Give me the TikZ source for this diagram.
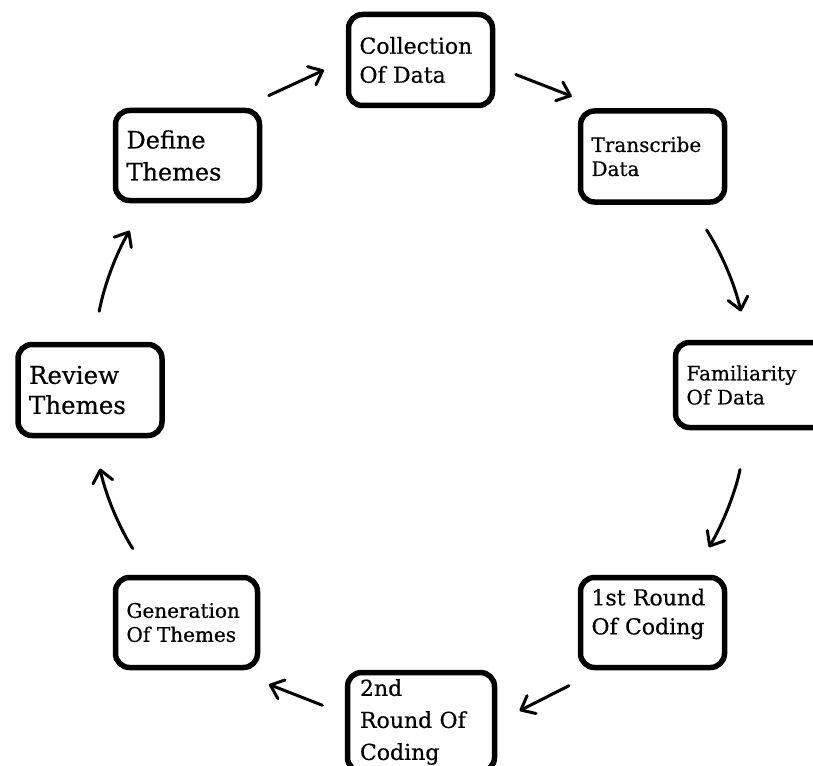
\documentclass[tikz,border=0pt]{standalone}
\usepackage{fontspec}
\setmainfont{DejaVu Serif}[FakeBold=0.5]
\usepackage{tikz}
\usetikzlibrary{arrows.meta}

\begin{document}
\begin{tikzpicture}[x=1pt,y=1pt,
  stage/.style={draw,line width=5.5pt,rounded corners=14pt,align=left,
    minimum width=144pt,minimum height=91pt,text width=122pt,
    inner xsep=11pt,inner ysep=0pt},
  small/.style={font=\fontsize{20}{24}\selectfont},
  medium/.style={font=\fontsize{22}{29}\selectfont},
  large/.style={font=\fontsize{24.5}{31}\selectfont},
  flow/.style={-{Straight Barb[length=12pt,width=20pt,round]},line width=3pt,line cap=round}]
\path[use as bounding box,fill=white] (0,0) rectangle (813,-765);
\clip (0,0) rectangle (813,-765);

% the eight stages, clockwise from the top
\node[stage,medium] (collect) at (420.5,-60) {Collection\\Of Data};
\node[stage,small] (transc) at (652.5,-156.5) {Transcribe\\Data};
\node[stage,small,minimum width=160pt,text width=138pt,minimum height=85pt] (famil) at (755.5,-385) {Familiarity\\Of Data};
\node[stage,medium,minimum height=90pt] (first) at (652.5,-622.5) {1st Round\\Of Coding\\[-7pt]\mbox{}};
\node[stage,medium,minimum width=147pt,minimum height=99pt,font=\fontsize{22}{32}\selectfont] (second) at (421,-722) {2nd\\Round Of\\Coding};
\node[stage,small,minimum width=142pt,text width=120pt,minimum height=90pt] (gener) at (186.5,-622.5) {Generation\\Of Themes};
\node[stage,large,font=\fontsize{24.5}{30}\selectfont] (review) at (90,-390) {Review\\Themes};
\node[stage,large,minimum height=90pt,font=\fontsize{24}{32}\selectfont] (define) at (187.5,-155.5) {Define\\Themes};

% arrows between the stages
\draw[flow,shorten <=29pt,shorten >=24pt] (define.41) -- (collect.west);
\draw[flow,shorten <=22pt,shorten >=33pt] (collect.-5) -- (transc.136);
\draw[flow,shorten <=30pt,shorten >=29pt] (transc.-52) to[bend left=10] (famil.100);
\draw[flow,shorten <=40pt,shorten >=32pt] (famil.-100) to[bend left=10] (first.50);
\draw[flow,shorten <=34pt,shorten >=25pt] (first.222) -- (second.east);
\draw[flow,shorten <=24pt,shorten >=39pt] (second.174) -- (gener.-46);
\draw[flow,shorten <=31pt,shorten >=31pt] (gener.128) to[bend left=10] (review.-86);
\draw[flow,shorten <=31pt,shorten >=32pt] (review.86) to[bend left=10] (define.-131);
\end{tikzpicture}
\end{document}
